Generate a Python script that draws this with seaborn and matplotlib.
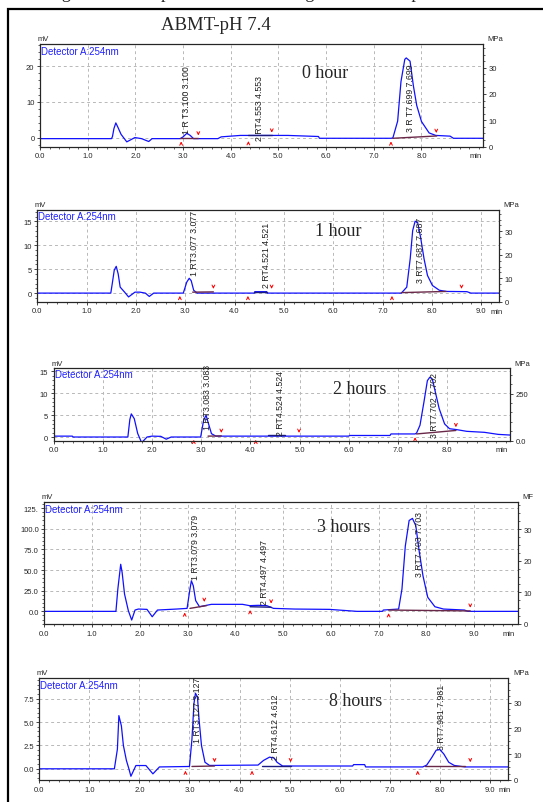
import matplotlib
matplotlib.use('Agg')
import matplotlib.pyplot as plt
import matplotlib.ticker as mticker
from matplotlib.patches import Rectangle
import seaborn as sns
import pandas as pd

sns.set_style("ticks")
plt.rcParams['font.family'] = ['Liberation Sans', 'DejaVu Sans']

W, H = 543, 803

# ---- chromatogram traces (time in min, signal in mV) ----
T0 = [0.0, 1.50, 1.52, 1.55, 1.59, 1.63, 1.70, 1.82, 1.99, 2.13, 2.28, 2.35, 2.94, 3.00, 3.08, 3.15,
      3.22, 3.73, 3.80, 4.20, 5.20, 5.84, 5.86, 7.36, 7.40, 7.50, 7.57, 7.65, 7.68, 7.76, 7.83, 7.90,
      8.00, 8.16, 8.30, 8.60, 8.67, 9.30]
S0 = [-0.3, -0.3, 0.3, 2.5, 4.1, 3.0, 0.9, -1.2, 0.0, -0.3, -1.1, -0.3, -0.3, 0.2, 1.2, 0.6,
      -0.3, -0.3, 0.2, 0.6, 0.6, 0.3, -0.2, -0.2, -0.1, 4.6, 15.7, 21.9, 22.3, 21.4, 14.5, 9.0,
      4.5, 1.3, 0.6, 0.4, -0.2, -0.2]

T1 = [0.0, 1.49, 1.52, 1.56, 1.60, 1.64, 1.68, 1.77, 1.85, 1.98, 2.08, 2.19, 2.27, 2.36, 2.96,
      3.03, 3.08, 3.12, 3.17, 3.24, 4.40, 4.41, 4.65, 4.66, 7.38, 7.49, 7.56, 7.61, 7.66, 7.71,
      7.77, 7.84, 7.91, 8.01, 8.15, 8.29, 8.71, 8.79, 9.36]
S1 = [0.0, 0.0, 2.0, 4.8, 5.6, 4.0, 1.25, 0.2, -0.8, 0.2, 0.2, 0.0, -0.7, 0.0, 0.0,
      2.3, 3.1, 2.6, 0.6, 0.0, 0.0, 0.3, 0.3, 0.0, 0.0, 1.25, 7.2, 13.1, 15.05, 14.8,
      11.7, 7.2, 3.7, 1.6, 0.6, 0.35, 0.3, 0.0, 0.0]

T2 = [0.0, 0.38, 0.40, 1.51, 1.55, 1.58, 1.64, 1.71, 1.79, 1.90, 2.00, 2.18, 2.29, 2.39, 2.99,
      3.05, 3.10, 3.14, 3.21, 3.30, 6.00, 6.02, 6.84, 6.86, 7.35, 7.38, 7.45, 7.53, 7.60, 7.65,
      7.70, 7.77, 7.84, 7.95, 8.05, 8.19, 8.40, 8.76, 9.04, 9.28]
S2 = [0.2, 0.2, 0.0, 0.0, 4.0, 5.3, 4.2, 0.8, -1.3, 0.0, 0.2, 0.15, -0.5, 0.0, 0.0,
      3.8, 5.0, 3.4, 0.76, 0.2, 0.2, 0.35, 0.35, 0.7, 0.7, 0.9, 2.7, 8.0, 12.9, 13.7,
      13.3, 9.9, 6.5, 3.0, 1.9, 1.7, 1.3, 1.07, 0.6, 0.45]

T3 = [0.0, 1.50, 1.54, 1.60, 1.63, 1.68, 1.76, 1.83, 1.90, 1.97, 2.15, 2.26, 2.37, 2.77, 2.99,
      3.05, 3.08, 3.12, 3.17, 3.25, 3.43, 3.50, 4.15, 4.30, 4.48, 4.66, 4.80, 5.24, 5.97, 6.55,
      7.08, 7.10, 7.42, 7.49, 7.56, 7.64, 7.71, 7.78, 7.85, 7.93, 8.03, 8.18, 8.36, 8.80, 8.87, 9.92]
S3 = [0.0, 0.0, 27, 57, 47, 21, 0.8, -10.5, 1.6, 2.8, 2.4, -6.5, 1.6, 2.8, 3.6,
      27, 37, 31, 13, 5.6, 7.7, 8.5, 8.5, 6.9, 7.3, 6.9, 3.6, 2.8, 2.4, 0.0,
      0.0, 1.6, 2.8, 27, 79, 110, 112.5, 103.6, 73, 43, 17, 5.6, 2.8, 1.6, 0.0, 0.0]

T4 = [0.0, 1.50, 1.56, 1.59, 1.64, 1.68, 1.74, 1.79, 1.83, 1.93, 2.13, 2.27, 2.40, 3.00, 3.05,
      3.09, 3.12, 3.16, 3.19, 3.24, 3.31, 3.40, 4.37, 4.48, 4.60, 4.69, 4.75, 4.86, 6.26, 6.28,
      6.50, 6.52, 7.66, 7.74, 7.84, 7.93, 8.00, 8.08, 8.18, 8.29, 8.50, 9.37]
S4 = [0.0, 0.0, 2.1, 5.7, 4.6, 2.5, 0.9, 0.0, -0.8, 0.35, 0.35, -0.54, 0.2, 0.25, 3.2,
      7.0, 8.1, 7.7, 5.4, 2.5, 0.7, 0.36, 0.4, 0.9, 1.25, 1.15, 0.7, 0.3, 0.3, 0.45,
      0.45, 0.2, 0.2, 0.4, 1.2, 2.0, 2.07, 1.6, 0.7, 0.36, 0.2, 0.2]

# integration baselines (t0, y0, t1, y1) and peak start / end markers (t, y)
BASE0 = [(2.93, -0.2, 3.32, -0.2), (4.37, 0.6, 4.86, 0.6), (7.40, -0.2, 8.32, 0.45)]
BASE1 = [(3.15, 0.2, 3.57, 0.25), (4.40, 0.3, 4.65, 0.3), (7.38, 0.1, 8.29, 0.35)]
BASE2 = [(3.14, 0.2, 3.41, 0.25), (4.36, 0.4, 4.71, 0.4), (7.38, 0.7, 8.18, 1.5)]
BASE3 = [(3.05, 3.6, 3.40, 7.0), (4.31, 5.6, 4.75, 5.0), (7.21, 1.6, 8.92, 0.5)]
BASE4 = [(3.05, 0.25, 3.50, 0.3), (4.45, 0.3, 5.02, 0.3), (7.70, 0.25, 8.50, 0.25)]

START0 = [(2.96, -0.3), (4.37, -0.2), (7.36, -0.3)]
END0 = [(3.32, -0.2), (4.86, 0.6), (8.31, 0.5)]
START1 = [(2.89, 0.0), (4.27, 0.0), (7.19, 0.0)]
END1 = [(3.57, 0.3), (4.75, 0.3), (8.60, 0.3)]
START2 = [(2.85, 0.0), (4.11, 0.0), (7.35, 0.6)]
END2 = [(3.41, 0.3), (4.99, 0.3), (8.18, 1.6)]
START3 = [(2.94, 2.0), (4.31, 5.0), (7.21, 1.2)]
END3 = [(3.35, 8.0), (4.75, 6.0), (8.92, 1.0)]
START4 = [(2.92, 0.1), (4.25, 0.1), (7.56, 0.1)]
END4 = [(3.50, 0.4), (5.02, 0.4), (8.61, 0.4)]

# peak annotations (text, time, bottom of label in mV)
PEAKS0 = [("1 R T3.100 3.100", 3.08, 1.4), ("2 RT4.553 4.553", 4.60, -0.8), ("3 R T7.699 7.699", 7.76, 1.9)]
PEAKS1 = [("1 RT3.077 3.077", 3.19, 3.7), ("2 RT4.521 4.521", 4.64, 1.3), ("3 RT7.687 7.687", 7.77, 2.3)]
PEAKS2 = [("1 RT3.083 3.083", 3.13, 1.9), ("2 RT4.524 4.524", 4.61, 0.37), ("3 RT7.702 7.702", 7.74, 0.0)]
PEAKS3 = [("1 RT3.079 3.079", 3.16, 39), ("2 RT4.497 4.497", 4.62, 8.9), ("3 RT7.703 7.703", 7.85, 43)]
PEAKS4 = [("1 RT3.127 3.127", 3.16, 2.86), ("2 RT4.612 4.612", 4.72, 1.07), ("3 RT7.981 7.981", 8.04, 2.14)]

TIMES = ["0 hour", "1 hour", "2 hours", "3 hours", "8 hours"]

LEFT_TICKS = [[0, 10, 20], [0, 5, 10, 15], [0, 5, 10, 15],
              [0, 25, 50, 75, 100, 125], [0, 2.5, 5, 7.5]]
LEFT_LABELS = [["0", "10", "20"], ["0", "5", "10", "15"], ["0", "5", "10", "15"],
               ["0.0", "25.0", "50.0", "75.0", "100.0", "125."], ["0.0", "2.5", "5.0", "7.5"]]
RIGHT_TICKS = [[0, 10, 20, 30], [0, 10, 20, 30], [0, 250], [0, 10, 20, 30], [0, 10, 20, 30]]
RIGHT_LABELS = [["0", "10", "20", "30"], ["0", "10", "20", "30"], ["0.0", "250"],
                ["0", "10", "20", "30"], ["0", "10", "20", "30"]]
RIGHT_NAME = ["MPa", "MPa", "MPa", "MF", "MPa"]

# ---- layout (pixels) ----
BOXES = [(40, 45, 483, 147.5), (37.3, 210.5, 499, 302.7), (53.6, 369, 510, 441.5),
         (44.3, 503.3, 518, 625), (39.3, 679.3, 508.3, 781)]
XMAX = [9.29, 9.36, 9.28, 9.92, 9.37]
YLIM = [(-2.5, 26.2), (-1.8, 17.5), (-0.8, 15.8), (-15.3, 132), (-1.2, 9.7)]
RLIM = [(0, 39), (0, 39.3), (0, 388), (0, 38.5), (0, 39.4)]
LMINOR = [2, 1, 1, 5, 0.5]
RMINOR = [2.5, 2.5, 50, 2.5, 2.5]
XLAST = [8, 9, 8, 9, 9]
MIN_X = [9.14, 9.32, 9.11, 9.73, 9.29]
TITLE_POS = [(325, 73), (338, 232), (360, 390), (344, 528), (356, 701)]

traces = [(T0, S0), (T1, S1), (T2, S2), (T3, S3), (T4, S4)]
bases = [BASE0, BASE1, BASE2, BASE3, BASE4]
starts = [START0, START1, START2, START3, START4]
ends = [END0, END1, END2, END3, END4]
peaks = [PEAKS0, PEAKS1, PEAKS2, PEAKS3, PEAKS4]

fig = plt.figure(figsize=(W / 100, H / 100), dpi=100)
fig.patch.set_facecolor('white')

# outer frame (runs off the right and bottom of the picture)
fig.add_artist(Rectangle((8 / W, -0.05), 1.2, 1 - 10 / H + 0.05, transform=fig.transFigure,
                         fill=False, lw=1.6, ec='black', clip_on=False))
# caption line above, cut by the top edge in the source image
fig.text(0.5, 1 + 7 / H, "Figure: the comparison of chromatograms with respect to time",
         ha='center', va='center', family='Liberation Serif', fontsize=13)
fig.text(216 / W, 1 - 25 / H, "ABMT-pH 7.4", ha='center', va='center',
         family='Liberation Serif', fontsize=13.5)

tick_kw = dict(labelsize=5.5, length=2.5, width=0.6, direction='out', pad=1.5)

for i in range(5):
    l, t, r, b = BOXES[i]
    ax = fig.add_axes([l / W, 1 - b / H, (r - l) / W, (b - t) / H])
    df = pd.DataFrame({'time': traces[i][0], 'signal': traces[i][1]})
    sns.lineplot(data=df, x='time', y='signal', ax=ax, color='#1010FF', lw=0.9,
                 sort=False, estimator=None)

    for (t0, y0, t1, y1), k in zip(bases[i], range(3)):
        ax.plot([t0, t1], [y0, y1], color='#1A1A80' if k == 1 else '#6A2848', lw=1.0)
    for (ts, ys) in starts[i]:
        ax.annotate('', xy=(ts, ys), xytext=(0, -8), textcoords='offset pixels',
                    arrowprops=dict(arrowstyle='->', color='red', lw=0.7,
                                    mutation_scale=5))
    for (te, ye) in ends[i]:
        ax.annotate('', xy=(te, ye), xytext=(0, 8), textcoords='offset pixels',
                    arrowprops=dict(arrowstyle='->', color='red', lw=0.7,
                                    mutation_scale=5))
    for txt, tx, ty in peaks[i]:
        ax.text(tx, ty, txt, rotation=90, ha='center', va='bottom', fontsize=6.3,
                color='#202020')

    ax.set_xlim(0, XMAX[i])
    ax.set_ylim(*YLIM[i])
    xt = list(range(0, XLAST[i] + 1))
    ax.set_xticks(xt)
    ax.set_xticklabels([f"{v:.1f}" for v in xt])
    ax.xaxis.set_minor_locator(mticker.MultipleLocator(0.2))
    ax.set_yticks(LEFT_TICKS[i])
    ax.set_yticklabels(LEFT_LABELS[i])
    ax.yaxis.set_minor_locator(mticker.MultipleLocator(LMINOR[i]))
    ax.tick_params(axis='both', which='major', **tick_kw)
    ax.tick_params(axis='both', which='minor', length=1.5, width=0.5, direction='out')
    ax.grid(True, which='major', axis='both', color='#B8B8B8', lw=0.7, ls=(0, (3, 3)))
    ax.set_xlabel('')
    ax.set_ylabel('')
    for sp in ax.spines.values():
        sp.set_linewidth(0.8)
        sp.set_color('black')

    ax.text(0.002, 0.985, "Detector A:254nm", transform=ax.transAxes, ha='left', va='top',
            fontsize=7, color='#2020FF')
    ax.text(-0.005, 1.02, "mV", transform=ax.transAxes, ha='left', va='bottom', fontsize=5.5)
    ax.annotate("min", xy=(MIN_X[i], 0), xycoords=('data', 'axes fraction'),
                xytext=(0, -4.3), textcoords='offset points', ha='center', va='top',
                fontsize=5.5)
    tx, ty = TITLE_POS[i]
    fig.text(tx / W, 1 - ty / H, TIMES[i], ha='center', va='center',
             family='Liberation Serif', fontsize=13)

    ax2 = ax.twinx()
    ax2.set_ylim(*RLIM[i])
    ax2.set_yticks(RIGHT_TICKS[i])
    ax2.set_yticklabels(RIGHT_LABELS[i])
    ax2.yaxis.set_minor_locator(mticker.MultipleLocator(RMINOR[i]))
    ax2.tick_params(axis='y', which='major', **tick_kw)
    ax2.tick_params(axis='y', which='minor', length=1.5, width=0.5, direction='out')
    ax2.text(1.01, 1.02, RIGHT_NAME[i], transform=ax2.transAxes, ha='left', va='bottom',
             fontsize=5.5)
    for sp in ax2.spines.values():
        sp.set_linewidth(0.8)

fig.savefig('out.png', dpi=100)
